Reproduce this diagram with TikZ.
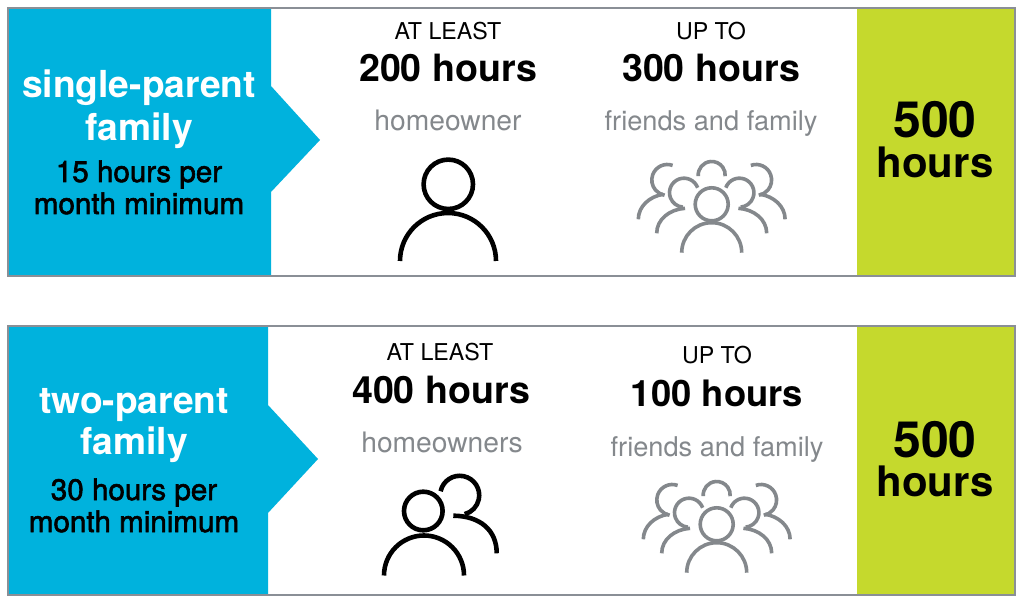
\documentclass[tikz,border=0pt]{standalone}
\usepackage{fontspec}
\setmainfont{TeX Gyre Heros}
\newfontfamily\medfont[FakeBold=2]{TeX Gyre Heros}
\definecolor{framegrey}{HTML}{8A8F96}
\definecolor{cyanblue}{HTML}{00B2DD}
\definecolor{limegreen}{HTML}{C5D92D}
\definecolor{softgrey}{HTML}{84888C}
\tikzset{
  txt/.style={anchor=base,inner sep=0pt,outer sep=0pt},
  title/.style={txt,text=white,font=\fontsize{37.2}{37.2}\bfseries\selectfont},
  minimum note/.style={txt,text=black,font=\fontsize{29.6}{29.6}\medfont\selectfont},
  lead/.style={txt,text=black,font=\fontsize{23.2}{23.2}\selectfont},
  amount/.style={txt,text=black,font=\fontsize{37.6}{37.6}\bfseries\selectfont},
  small amount/.style={txt,text=black,font=\fontsize{36.4}{36.4}\bfseries\selectfont},
  who/.style={txt,text=softgrey,font=\fontsize{28.2}{28.2}\selectfont},
  kin/.style={txt,text=softgrey,font=\fontsize{27.2}{27.2}\selectfont},
  total num/.style={txt,text=black,font=\fontsize{50}{50}\bfseries\selectfont},
  total unit/.style={txt,text=black,font=\fontsize{42}{42}\bfseries\selectfont},
  frame/.style={draw=framegrey,line width=2.4pt},
  blackline/.style={draw=black,line width=4.6pt},
  greyline/.style={draw=softgrey,line width=3.6pt},
  side/.pic={
    \draw[greyline] (-27.7,11.6)++(20:14.5) arc (20:265:14.5);
    \draw[greyline] (-55,-29) .. controls (-55,-15) and (-42,-5) .. (-26.7,-4);
    \draw[greyline] (-44.4,24.3)++(70:15.5) arc (70:260:15.5);
    \draw[greyline] (-73.4,-15) .. controls (-73.4,-2) and (-62,8) .. (-48.4,10);
  },
  crowd/.pic={
    \draw[greyline] (0,0) circle (16.5);
    \draw[greyline] (-30,-48.4) arc (180:0:30);
    \draw[greyline] (0,29.3)++(185:13.5) arc (185:-5:13.5);
    \pic {side};
    \pic[xscale=-1] {side};
  }
}
\begin{document}
\begin{tikzpicture}[x=1pt,y=1pt]
\useasboundingbox (0,0) rectangle (1024,602);
\fill[white] (0,0) rectangle (1024,602);
% top panel
\fill[cyanblue] (8,594) -- (271,594) -- (271,516) -- (320,462) -- (271,410) -- (271,326) -- (8,326) -- cycle;
\fill[limegreen] (857,594) rectangle (1015,326);
\draw[frame] (8,594) rectangle (1015,326);
% bottom panel
\fill[cyanblue] (8,276) -- (268,276) -- (268,197) -- (318,143) -- (268,89) -- (268,7) -- (8,7) -- cycle;
\fill[limegreen] (857,276) rectangle (1015,7);
\draw[frame] (8,276) rectangle (1015,7);
% top texts
\node[title] (t1) at (139,504) {single-parent};
\node[title] (t2) at (139,461) {family};
\node[minimum note] (t3) at (139,420) {15 hours per};
\node[minimum note] (t4) at (139,388) {month minimum};
\node[lead] (t5) at (448,562) {AT LEAST};
\node[amount] (t6) at (448,520) {200 hours};
\node[who] (t7) at (448,471) {homeowner};
\node[lead] (t8) at (711,562) {UP TO};
\node[amount] (t9) at (711,520) {300 hours};
\node[kin] (t10) at (711,471) {friends and family};
\node[total num] (t11) at (935,464) {500};
\node[total unit] (t12) at (935,424) {hours};
% bottom texts
\node[title] (b1) at (134,188) {two-parent};
\node[title] (b2) at (134,147) {family};
\node[minimum note] (b3) at (134,102) {30 hours per};
\node[minimum note] (b4) at (134,70) {month minimum};
\node[lead] (b5) at (440,241) {AT LEAST};
\node[amount] (b6) at (441,198) {400 hours};
\node[who] (b7) at (442,149) {homeowners};
\node[lead] (b8) at (717,238) {UP TO};
\node[small amount] (b9) at (717,195) {100 hours};
\node[kin] (b10) at (717,145) {friends and family};
\node[total num] (b11) at (935,144) {500};
\node[total unit] (b12) at (935,105) {hours};
% icons
\draw[blackline] (448.3,417.7) circle (24.7);
\draw[blackline] (400,341) arc (180:0:48);
\draw[blackline] (423.3,91) circle (19.3);
\draw[blackline] (384,26.5) arc (180:0:40);
\draw[blackline] (459.7,106.7)++(168:19.5) arc (168:-75:19.5);
\draw[blackline] (496.7,48.7) .. controls (496.7,72) and (480,86) .. (453.3,86.3);
\pic at (711.7,397.7) {crowd};
\pic at (716.7,77.7) {crowd};
\end{tikzpicture}
\end{document}
